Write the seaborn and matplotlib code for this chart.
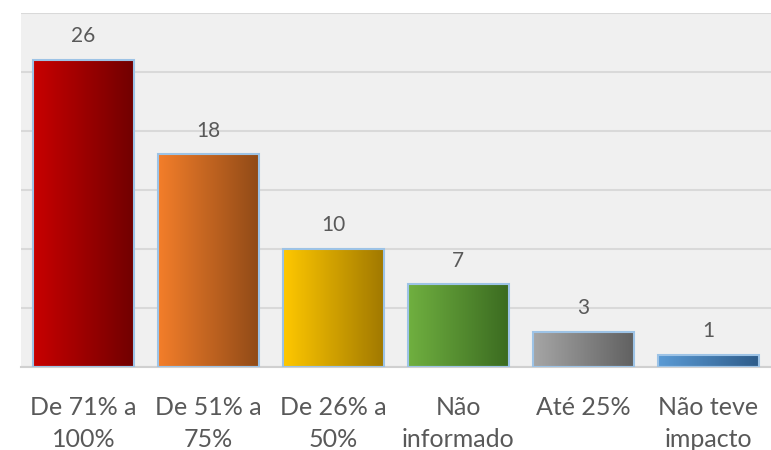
import numpy as np
import pandas as pd
import matplotlib
matplotlib.use('Agg')
import matplotlib.pyplot as plt
import seaborn as sns
from matplotlib.colors import LinearSegmentedColormap

# dados do gráfico
categorias = ['De 71% a\n100%', 'De 51% a\n75%', 'De 26% a\n50%',
              'Não\ninformado', 'Até 25%', 'Não teve\nimpacto']
valores = [26, 18, 10, 7, 3, 1]

# cores do gradiente (esquerda clara -> direita escura)
cores_claras = ['#c80000', '#f47e2a', '#ffc800', '#70b040', '#a6a6a6', '#5b9bd5']
cores_escuras = ['#700000', '#8f4a17', '#a07800', '#3a6a20', '#606060', '#2e5c8a']

sns.set_theme(style='whitegrid')
plt.rcParams['font.family'] = ['Lato', 'DejaVu Sans']

fig = plt.figure(figsize=(7.71, 4.5), dpi=100)
ax = fig.add_axes([0.027, 0.184, 0.973, 0.788])

df = pd.DataFrame({'categoria': categorias, 'valor': valores})
sns.barplot(data=df, x='categoria', y='valor', ax=ax, width=0.81,
            color='#cccccc', errorbar=None)

# gradiente horizontal em cada barra
grad = np.linspace(0, 1, 256).reshape(1, -1)
for patch, c1, c2 in zip(ax.patches, cores_claras, cores_escuras):
    x0, y0 = patch.get_x(), patch.get_y()
    w, h = patch.get_width(), patch.get_height()
    cmap = LinearSegmentedColormap.from_list('g', [c1, c2])
    ax.imshow(grad, cmap=cmap, extent=[x0, x0 + w, y0, y0 + h],
              aspect='auto', zorder=2.5)
    patch.set_facecolor('none')
    patch.set_edgecolor('#9dc3e6')
    patch.set_linewidth(1.5)
    patch.set_zorder(3)

ax.bar_label(ax.containers[0], padding=10, fontsize=15, color='#595959')

ax.set_xlim(-0.5, 5.5)
ax.set_ylim(0, 30)
ax.set_yticks(range(0, 31, 5))
ax.set_yticklabels([])
ax.set_facecolor('#f0f0f0')
ax.yaxis.grid(True, color='#d9d9d9', linewidth=1.5)
ax.xaxis.grid(False)
ax.set_axisbelow(True)
for s in ['left', 'right', 'top']:
    ax.spines[s].set_visible(False)
ax.spines['bottom'].set_color('#d0d0d0')
ax.spines['bottom'].set_linewidth(1.5)
ax.tick_params(axis='x', length=0, pad=21, labelsize=18, labelcolor='#595959')
for lbl in ax.get_xticklabels():
    lbl.set_linespacing(1.45)
ax.tick_params(axis='y', length=0)
ax.set_xlabel('')
ax.set_ylabel('')

fig.savefig('out.png', dpi=100)
